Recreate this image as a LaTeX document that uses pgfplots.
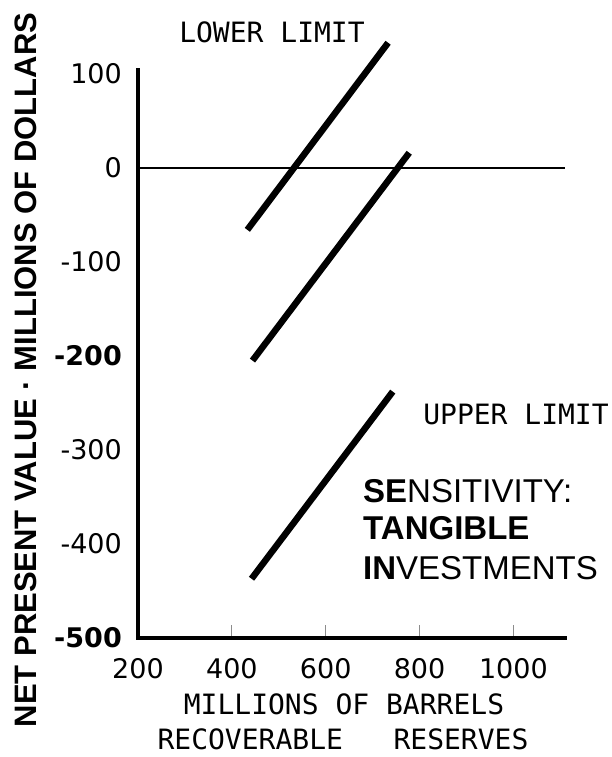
\documentclass[border=0pt]{standalone}
\usepackage{fontspec}
\setmainfont{DejaVu Sans}
\newfontfamily\monofont{DejaVu Sans Mono}
\newfontfamily\helv{Liberation Sans}
\usepackage{pgfplots}
\pgfplotsset{compat=1.18}

\begin{document}
\begin{tikzpicture}[x=1pt,y=1pt]
\useasboundingbox (0,0) rectangle (611,757);
\begin{axis}[
  at={(138pt,119pt)}, anchor=south west,
  scale only axis, width=427pt, height=568pt,
  xmin=200, xmax=1110, ymin=-500, ymax=104,
  axis x line=bottom, axis y line=left,
  axis line style={line width=4.5pt, -, line cap=rect},
  xtick={200,400,600,800,1000},
  xticklabels={200,400,600,800,1000},
  ytick={-500,-400,-300,-200,-100,0,100},
  yticklabels={\textbf{-500},-400,-300,\textbf{-200},-100,0,100},
  tick align=inside,
  major tick length=13pt,
  xtick style={draw=black!45, line width=0.8pt},
  ytick style={draw=none},
  tick label style={font=\fontsize{27}{27}\selectfont, inner sep=0pt},
  xticklabel style={anchor=north, yshift=-20pt},
  yticklabel style={anchor=east, xshift=-16pt},
  clip=false,
]
% zero reference line
\addplot[line width=1.5pt] coordinates {(200,0) (1110,0)};
% lower limit
\addplot[line width=6.5pt, line cap=butt] coordinates {(433,-66) (733,133)};
% base case
\addplot[line width=6.5pt, line cap=butt] coordinates {(444,-205) (778,16)};
% upper limit
\addplot[line width=6.5pt, line cap=butt] coordinates {(442,-437) (743,-238)};
\end{axis}

% annotations
\node[font=\monofont\fontsize{28}{28}\selectfont, anchor=base, inner sep=0pt] at (272,714) {LOWER LIMIT};
\node[font=\monofont\fontsize{28}{28}\selectfont, anchor=base, inner sep=0pt] at (516,332) {UPPER LIMIT};
\node[font=\helv\fontsize{33}{33}\selectfont, anchor=base west, inner sep=0pt] at (363,254) {\textbf{SE}NSITIVITY:};
\node[font=\helv\fontsize{33}{33}\selectfont, anchor=base west, inner sep=0pt] at (363,217) {\textbf{TANGIBLE}};
\node[font=\helv\fontsize{33}{33}\selectfont, anchor=base west, inner sep=0pt] at (363,177) {\textbf{IN}VESTMENTS};

% axis titles
\node[font=\monofont\fontsize{28}{28}\selectfont, anchor=base, inner sep=0pt] at (344,42) {MILLIONS OF BARRELS};
\node[font=\monofont\fontsize{28}{28}\selectfont, anchor=base, inner sep=0pt] at (343,8) {RECOVERABLE\ \ \ RESERVES};
\node[font=\helv\bfseries\fontsize{31}{31}\selectfont, rotate=90, inner sep=0pt] at (26,387) {NET PRESENT VALUE · MILLIONS OF DOLLARS};
\end{tikzpicture}
\end{document}
